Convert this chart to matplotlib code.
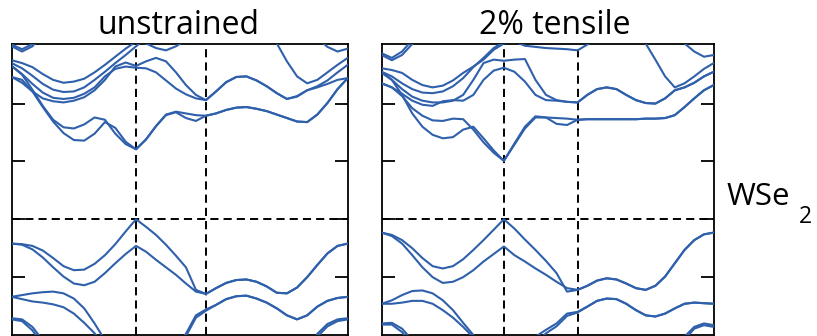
import numpy as np
import matplotlib.pyplot as plt

plt.rcParams['font.family'] = ['Open Sans', 'DejaVu Sans']

nan = np.nan
BLUE = '#2f60ab'

# high-symmetry points along Gamma-M-K-Gamma (fraction of the path)
unstr_hs = [0.0, 0.370, 0.578, 1.0]
tens_hs = [0.0, 0.368, 0.590, 1.0]

# ---- unstrained: band energies (eV, VBM = 0) ----
u_kg_low = [1.83, 1.89, 1.93, 1.94, 1.91, 1.87, 1.81, 1.75, 1.69, 1.68, 1.81, 2.01, 2.25, 2.44]
u_c1 = [2.46, 2.41, 2.21, 1.94, 1.69, 1.49, 1.37, 1.36, 1.48, 1.68, 1.58, 1.34, 1.21,
        1.38, 1.61, 1.81, 1.86, 1.83, 1.80, 1.79] + u_kg_low
u_c2 = [2.65, 2.50, 2.24, 1.96, 1.72, 1.59, 1.57, 1.64, 1.76, 1.72, 1.48, 1.30, 1.21,
        1.38, 1.61, 1.80, 1.85, 1.75, 1.70, 1.79] + u_kg_low
u_c3 = [2.46, 2.36, 2.21, 2.09, 2.04, 2.02, 2.05, 2.11, 2.23, 2.41, 2.64, 2.71, 2.65,
        2.73, 2.79, 2.73, 2.54, 2.32, 2.15, 2.06,
        2.21, 2.37, 2.46, 2.47, 2.40, 2.30, 2.18, 2.08, 2.13, 2.23, 2.30, 2.40, 2.54, 2.67]
u_c4 = [2.65, 2.51, 2.34, 2.19, 2.10, 2.08, 2.10, 2.17, 2.28, 2.47, 2.60, 2.64, 2.62,
        2.61, 2.54, 2.40, 2.26, 2.16, 2.09, 2.06,
        2.21, 2.37, 2.46, 2.47, 2.40, 2.30, 2.18, 2.08, 2.12, 2.23, 2.28, 2.34, 2.41, 2.44]
u_c5 = [2.70, 2.61, 2.48, 2.34, 2.24, 2.20, 2.21, 2.28, 2.41, 2.55, 2.70, 2.84, 2.99,
        3.13, 3.16, 3.19, 3.22, 3.30, 3.30, 3.30,
        3.30, 3.30, 3.30, 3.30, 3.30, 3.30, 3.30, 3.30, 3.30, 3.30, 3.13, 2.98, 2.90, 2.95]
u_c6 = [2.75, 2.70, 2.63, 2.51, 2.41, 2.36, 2.38, 2.43, 2.54, 2.67, 2.81, 2.95, 3.07,
        3.04, 2.96, 2.92, 2.99, 3.10, 3.22, 3.30,
        3.30, 3.30, 3.30, 3.30, 3.30, 3.22, 3.04, 2.73, 2.47, 2.35, 2.41, 2.54, 2.67, 2.79]
u_c7 = [2.99, 2.90, 2.99, 3.22, 3.30]
u_c8 = [3.02, 2.94, 3.03, 3.25]

u_kg_v = [-1.19, -1.10, -1.05, -1.04, -1.08, -1.16, -1.27, -1.28, -1.18, -1.00, -0.79, -0.59, -0.46, -0.42]
u_v1 = [-0.42, -0.43, -0.46, -0.54, -0.67, -0.81, -0.88, -0.87, -0.77, -0.62, -0.43, -0.21, 0.00,
        -0.13, -0.27, -0.44, -0.63, -0.83, -1.22, -1.29] + u_kg_v
u_v2 = [-0.42, -0.44, -0.52, -0.66, -0.83, -0.99, -1.11, -1.14, -1.08, -0.93, -0.76, -0.60, -0.46,
        -0.56, -0.70, -0.83, -0.96, -1.11, -1.25, -1.29] + u_kg_v
u_kg_v2 = [-1.48, -1.38, -1.33, -1.32, -1.37, -1.44, -1.54, -1.66, -1.73, -1.66, -1.51, -1.41, -1.36, -1.34]
u_v3 = [-1.34, -1.31, -1.28, -1.26, -1.25, -1.28, -1.37, -1.54, -1.80, -2.09, -2.38, -2.66, -2.89,
        -2.78, -2.55, -2.38, -2.20, -1.98, -1.66, -1.56] + u_kg_v2
u_v4 = [-1.34, -1.38, -1.42, -1.44, -1.47, -1.52, -1.63, -1.79, -1.97, -2.20, -2.46, -2.72, -2.95,
        -2.84, -2.64, -2.43, -2.23, -2.02, -1.70, -1.58] + u_kg_v2
u_v5 = [-1.71, -1.73, -1.86, -2.09, -2.38, nan, nan, nan, nan, nan, nan, nan, nan,
        nan, nan, nan, nan, nan, nan, nan,
        nan, nan, nan, nan, nan, nan, nan, nan, -2.66, -2.32, -1.98, -1.81, -1.73, -1.71]
u_v6 = [-1.73, -1.76, -1.92, -2.16, -2.45, nan, nan, nan, nan, nan, nan, nan, nan,
        nan, nan, nan, nan, nan, nan, nan,
        nan, nan, nan, nan, nan, nan, nan, nan, -2.70, -2.38, -2.03, -1.85, -1.76, -1.73]

# ---- 2% tensile ----
t_kg_low = [1.73, 1.73, 1.73, 1.73, 1.73, 1.73, 1.74, 1.74, 1.75, 1.80, 1.94, 2.09, 2.23, 2.32]
t_c1 = [2.35, 2.28, 2.13, 1.92, 1.79, 1.71, 1.70, 1.74, 1.73, 1.55, 1.33, 1.15, 1.01,
        1.29, 1.57, 1.76, 1.76, 1.65, 1.63, 1.72] + t_kg_low
t_c2 = [2.55, 2.41, 2.15, 1.83, 1.60, 1.46, 1.40, 1.42, 1.55, 1.60, 1.40, 1.19, 1.01,
        1.31, 1.60, 1.78, 1.76, 1.75, 1.74, 1.72] + t_kg_low
t_kg_mid = [2.15, 2.25, 2.28, 2.25, 2.15, 2.06, 2.01, 2.00, 2.09, 2.23, 2.28, 2.36, 2.47, 2.55]
t_c3 = [2.53, 2.41, 2.25, 2.12, 2.05, 2.02, 2.02, 2.05, 2.15, 2.41, 2.70, 2.76, 2.74,
        2.76, 2.77, 2.41, 2.15, 2.06, 2.03, 2.02] + t_kg_mid
t_c4 = [2.35, 2.28, 2.17, 2.05, 1.98, 1.96, 2.04, 2.06, 2.05, 2.15, 2.41, 2.57, 2.62,
        2.55, 2.38, 2.15, 2.06, 2.05, 2.03, 2.02] + t_kg_mid
t_c5 = [2.55, 2.47, 2.35, 2.25, 2.19, 2.18, 2.21, 2.30, 2.44, 2.63, 2.79, 2.96, 3.07,
        3.19, 3.30, 3.30, 3.30, 3.30, 3.30, 3.30,
        3.30, 3.30, 3.30, 3.30, 3.30, 3.30, 3.30, 3.30, 3.30, 3.30, 3.04, 2.90, 2.81, 2.84]
t_c6 = [2.61, 2.58, 2.53, 2.41, 2.32, 2.28, 2.31, 2.40, 2.53, 2.64, 2.76, 2.93, 3.04,
        3.07, 3.00, 2.98, 2.96, 2.95, 2.94, 2.92,
        3.02, 3.13, 3.25, 3.30, 3.30, 3.30, 3.04, 2.76, 2.47, 2.28, 2.35, 2.47, 2.60, 2.70]
t_c7 = [2.84, 2.75, 2.84, 3.03, 3.25]
t_c8 = [2.87, 2.79, 2.90, 3.10]

t_kg_v = [-1.15, -1.06, -1.02, -1.04, -1.11, -1.19, -1.22, -1.15, -0.99, -0.76, -0.53, -0.36, -0.26, -0.23]
t_v1 = [-0.23, -0.27, -0.36, -0.50, -0.67, -0.81, -0.85, -0.81, -0.69, -0.53, -0.36, -0.18, 0.00,
        -0.16, -0.35, -0.53, -0.72, -0.93, -1.25, -1.22] + t_kg_v
t_v2 = [-0.23, -0.29, -0.42, -0.62, -0.83, -1.00, -1.10, -1.08, -1.00, -0.88, -0.73, -0.60, -0.47,
        -0.62, -0.73, -0.85, -0.96, -1.08, -1.19, -1.22] + t_kg_v
t_kg_v2 = [-1.51, -1.41, -1.37, -1.38, -1.46, -1.57, -1.66, -1.68, -1.63, -1.54, -1.46, -1.44, -1.45, -1.46]
t_v3 = [-1.46, -1.40, -1.31, -1.24, -1.23, -1.28, -1.40, -1.57, -1.79, -2.00, -2.26, -2.55, -2.78,
        -2.78, -2.43, -2.03, -1.91, -1.80, -1.63, -1.60] + t_kg_v2
t_v4 = [-1.46, -1.46, -1.44, -1.41, -1.41, -1.46, -1.57, -1.70, -1.86, -2.04, -2.29, -2.55, -2.78,
        -2.78, -2.55, -2.15, -1.97, -1.85, -1.67, -1.61] + t_kg_v2
t_v5 = [-1.80, -1.79, -1.89, -2.09, -2.50, nan, nan, nan, nan, nan, nan, nan, nan,
        nan, nan, nan, nan, nan, nan, nan,
        nan, nan, nan, nan, nan, nan, nan, nan, nan, -2.60, -2.03, -1.86, -1.80, -1.83]
t_v6 = [-1.82, -1.82, -1.95, -2.15, -2.55, nan, nan, nan, nan, nan, nan, nan, nan,
        nan, nan, nan, nan, nan, nan, nan,
        nan, nan, nan, nan, nan, nan, nan, nan, nan, -2.65, -2.08, -1.89, -1.83, -1.86]

unstr_bands = [u_c1, u_c2, u_c3, u_c4, u_c5, u_c6, u_c7, u_c8,
               u_v1, u_v2, u_v3, u_v4, u_v5, u_v6]
tens_bands = [t_c1, t_c2, t_c3, t_c4, t_c5, t_c6, t_c7, t_c8,
              t_v1, t_v2, t_v3, t_v4, t_v5, t_v6]


def kgrid(hs):
    # 12 / 7 / 14 steps on the three legs of the path
    return np.concatenate([np.linspace(hs[0], hs[1], 13),
                           np.linspace(hs[1], hs[2], 8)[1:],
                           np.linspace(hs[2], hs[3], 15)[1:]])


def draw_panel(ax, hs, bands):
    k = kgrid(hs)
    for e in bands:
        ax.plot(k[:len(e)], e, color=BLUE, lw=1.5, zorder=3,
                solid_capstyle='round', solid_joinstyle='round')
    dash = (0, (4.2, 2.6))
    for x in hs[1:3]:
        ax.axvline(x, color='black', lw=1.4, ls=dash, zorder=2)
    ax.axhline(0, color='black', lw=1.4, ls=dash, zorder=2)
    ax.set_xlim(0, 1)
    ax.set_ylim(-2, 3.03)
    ax.set_xticks([])
    ax.set_yticks([-1, 0, 1, 2])
    ax.tick_params(axis='y', direction='in', length=9.5, width=1.3,
                   left=True, right=True, labelleft=False)
    for s in ax.spines.values():
        s.set_linewidth(1.3)


fig = plt.figure(figsize=(8.17, 3.36), dpi=100)
ax1 = fig.add_axes([11.7 / 817, 1 / 336, 336 / 817, 291 / 336])
ax2 = fig.add_axes([381.7 / 817, 1 / 336, 332 / 817, 291 / 336])

draw_panel(ax1, unstr_hs, unstr_bands)
draw_panel(ax2, tens_hs, tens_bands)

fig.text(178 / 817, 1 - 33.5 / 336, 'unstrained', ha='center', va='baseline', fontsize=23)
fig.text(555 / 817, 1 - 33.5 / 336, '2% tensile', ha='center', va='baseline', fontsize=23)
fig.text(727 / 817, 1 - 205 / 336, 'WSe', ha='left', va='baseline', fontsize=22.5)
fig.text(799 / 817, 1 - 223 / 336, '2', ha='left', va='baseline', fontsize=16.5)

fig.savefig('out.png', dpi=100)
